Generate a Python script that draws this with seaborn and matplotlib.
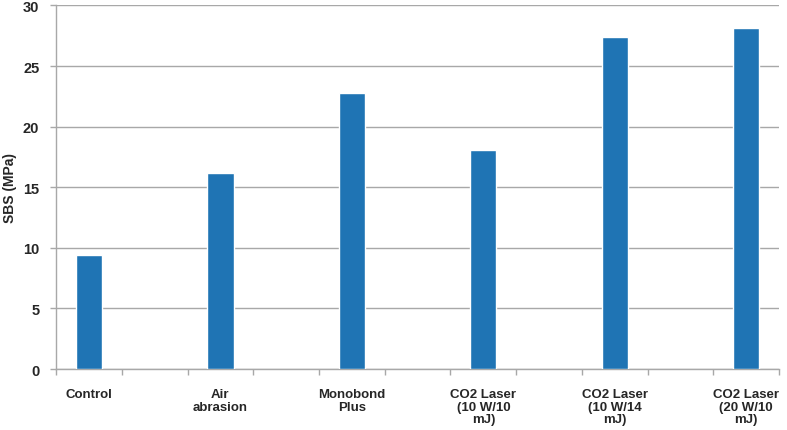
import pandas as pd
import seaborn as sns
import matplotlib.pyplot as plt

# groups with an empty slot between each (as in the original Excel chart)
groups = ["Control", "Air\nabrasion", "Monobond\nPlus",
          "CO2 Laser\n(10 W/10\nmJ)", "CO2 Laser\n(10 W/14\nmJ)", "CO2 Laser\n(20 W/10\nmJ)"]
sbs = [9.4, 16.2, 22.8, 18.1, 27.4, 28.1]
gaps = ["gap1", "gap2", "gap3", "gap4", "gap5"]
y_ticks = [0, 5, 10, 15, 20, 25, 30]

order = []
for i, g in enumerate(groups):
    order.append(g)
    if i < len(gaps):
        order.append(gaps[i])

df = pd.DataFrame({"group": groups, "sbs": sbs})

sns.set_style("white")
plt.rcParams["font.family"] = ["Liberation Sans", "DejaVu Sans"]

fig = plt.figure(figsize=(7.87, 4.31), dpi=100)
ax = fig.add_axes([0.0712, 0.1415, 0.9188, 0.8435])

sns.barplot(data=df, x="group", y="sbs", order=order, color="#1f74b4",
            width=0.4, saturation=1, ax=ax, zorder=3)

ax.set_ylim(0, 30)
ax.set_xlim(-0.5, len(order) - 0.5)
ax.set_yticks(y_ticks)
ax.set_yticklabels([str(t) for t in y_ticks], fontsize=10.5, fontweight="bold")
ax.yaxis.grid(True, color="#a8a8a8", linewidth=1, zorder=0)
ax.set_axisbelow(True)

labels = [o if not o.startswith("gap") else "" for o in order]
ax.set_xticks(range(len(order)))
ax.set_xticklabels(labels, fontsize=9.5, fontweight="bold", linespacing=1.05)
ax.set_xticks([i - 0.5 for i in range(len(order) + 1)], minor=True)
ax.tick_params(axis="x", which="major", bottom=True, length=0, pad=14)
ax.tick_params(axis="x", which="minor", bottom=True, length=4, color="#a8a8a8", width=1)
ax.tick_params(axis="y", left=True, length=4, color="#a8a8a8", width=1, pad=8)

ax.set_xlabel("")
ax.set_ylabel("SBS (MPa)", fontsize=10, fontweight="bold", labelpad=4)

for s in ["top", "right"]:
    ax.spines[s].set_visible(False)
for s in ["left", "bottom"]:
    ax.spines[s].set_color("#a8a8a8")
    ax.spines[s].set_linewidth(1)

fig.savefig("out.png", dpi=100)
